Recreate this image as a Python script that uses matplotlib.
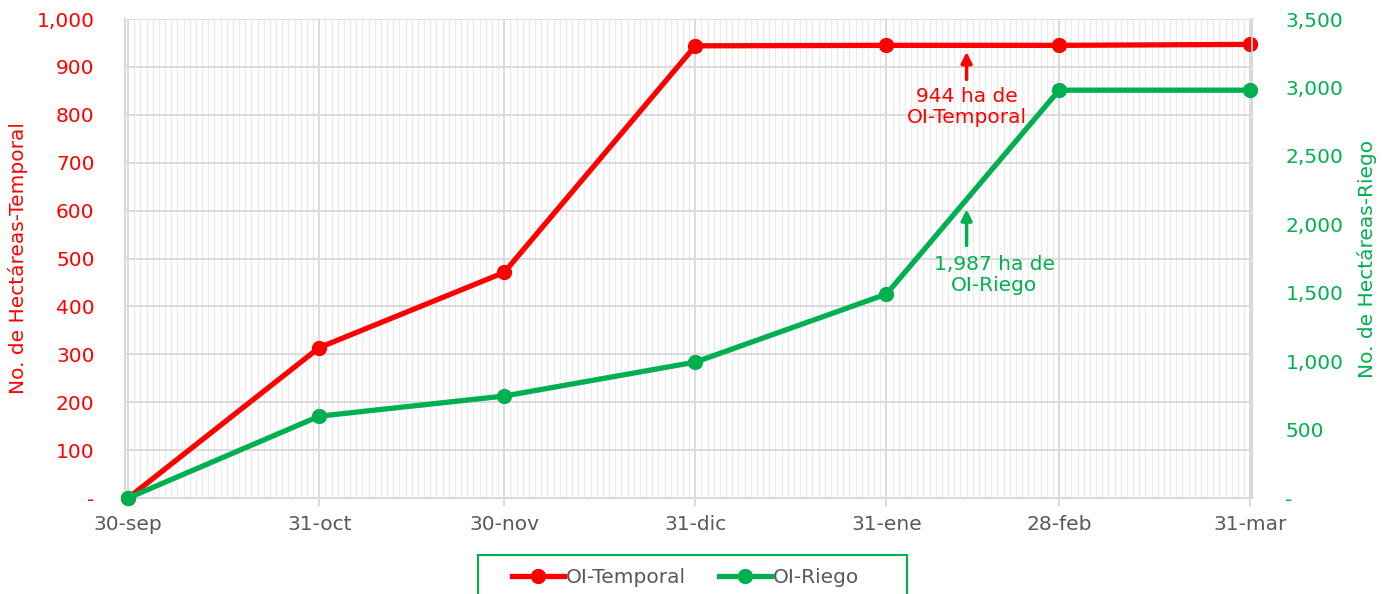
import datetime as dt
import matplotlib
matplotlib.use("Agg")
import matplotlib.pyplot as plt
import matplotlib.dates as mdates
from matplotlib.patches import Rectangle
from matplotlib.ticker import FixedLocator, FuncFormatter

plt.rcParams['font.family'] = ['DejaVu Sans']

dates = ["2022-09-30", "2022-10-31", "2022-11-30", "2022-12-31",
         "2023-01-31", "2023-02-28", "2023-03-31"]
tick_labels = ["30-sep", "31-oct", "30-nov", "31-dic", "31-ene", "28-feb", "31-mar"]
temporal = [0, 314, 471, 944, 945, 945, 947]
riego = [0, 598, 745, 993, 1490, 2980, 2980]

RED = "#FF0000"
GREEN = "#00B050"
GRAY = "#595959"
FS = 14.5

x = [dt.datetime.strptime(d, "%Y-%m-%d") for d in dates]

fig = plt.figure(figsize=(13.85, 5.94), dpi=100)
ax = fig.add_axes([0.0903, 0.1616, 0.8137, 0.8064])
ax2 = ax.twinx()

ax.set_xlim(x[0] - dt.timedelta(days=0.5), x[-1] + dt.timedelta(days=0.3))
ax.set_ylim(0, 1000)
ax2.set_ylim(0, 3500)

# grid
ax.xaxis.set_major_locator(FixedLocator(mdates.date2num(x)))
ax.set_xticklabels(tick_labels)
ax.xaxis.set_minor_locator(mdates.DayLocator())
ax.grid(which='minor', axis='x', color='#EBEBEB', linewidth=1.0)
ax.grid(which='major', axis='x', color='#D9D9D9', linewidth=1.3)
ax.yaxis.set_major_locator(FixedLocator(range(0, 1001, 100)))
ax.grid(which='major', axis='y', color='#D9D9D9', linewidth=1.3)
ax.set_axisbelow(True)

ax.tick_params(axis='x', which='major', length=6, color='#D9D9D9', width=1.3,
               labelsize=FS, labelcolor=GRAY, pad=6)
ax.tick_params(axis='x', which='minor', length=0)
ax.tick_params(axis='y', length=0, labelsize=FS, labelcolor=RED, pad=22)
ax2.yaxis.set_major_locator(FixedLocator(range(0, 3501, 500)))
ax2.tick_params(axis='y', length=0, labelsize=FS, labelcolor=GREEN, pad=24)

fmt = FuncFormatter(lambda v, p: "-" if v == 0 else f"{int(v):,}")
ax.yaxis.set_major_formatter(fmt)
ax2.yaxis.set_major_formatter(fmt)

for a in (ax, ax2):
    for s in a.spines.values():
        s.set_color('#D9D9D9')
        s.set_linewidth(1.3)
    a.spines['top'].set_visible(False)

ax.set_ylabel("No. de Hectáreas-Temporal", color=RED, fontsize=FS, labelpad=6)
ax2.set_ylabel("No. de Hectáreas-Riego", color=GREEN, fontsize=FS, labelpad=10)

l1, = ax.plot(x, temporal, color=RED, lw=3.8, marker='o', markersize=10,
              label="OI-Temporal", zorder=5, clip_on=False)
l2, = ax2.plot(x, riego, color=GREEN, lw=3.8, marker='o', markersize=10,
               label="OI-Riego", zorder=5, clip_on=False)

# annotations
ann_x = dt.datetime(2023, 2, 13)
ax.annotate("", xy=(ann_x, 937), xytext=(ann_x, 868),
            arrowprops=dict(arrowstyle='-|>', color=RED, lw=2.5, mutation_scale=16))
ax.text(ann_x, 858, "944 ha de\nOI-Temporal", color=RED, fontsize=FS,
        ha='center', va='top', linespacing=1.1)
ax2.annotate("", xy=(ann_x, 2130), xytext=(ann_x, 1825),
             arrowprops=dict(arrowstyle='-|>', color=GREEN, lw=2.5, mutation_scale=16))
ax2.text(ann_x + dt.timedelta(days=4.5), 1775, "1,987 ha de\nOI-Riego", color=GREEN,
         fontsize=FS, ha='center', va='top', linespacing=1.1)

leg = fig.legend(handles=[l1, l2], loc='center', bbox_to_anchor=(0.495, 0.028),
                 ncol=2, frameon=False, fontsize=FS,
                 handlelength=2.6, columnspacing=1.6, handletextpad=0.12,
                 borderpad=0.3, borderaxespad=0)
for t in leg.get_texts():
    t.set_color(GRAY)

# legend frame (wide Excel-style box, bottom edge runs off the image)
fig.patches.append(Rectangle((0.3451, -0.02), 0.3097, 0.086, transform=fig.transFigure,
                             fill=False, edgecolor=GREEN, linewidth=1.5))

fig.savefig("out.png", dpi=100)
